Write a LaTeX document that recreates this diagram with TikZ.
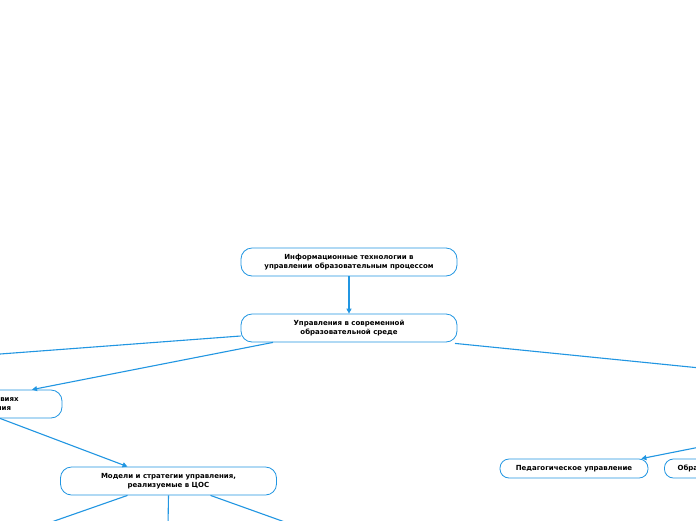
\documentclass[tikz,border=0pt]{standalone}
\usepackage{fontspec}
\setmainfont{DejaVu Sans}
\usetikzlibrary{arrows.meta}
\definecolor{lnblue}{RGB}{33,150,226}
\tikzset{
  topic/.style={draw=lnblue, line width=0.8pt, rounded corners=11pt, fill=white,
    minimum width=216pt, minimum height=28pt, align=center, inner sep=2pt,
    font=\fontsize{7}{9.6}\selectfont\bfseries, text=black},
  small/.style={topic, minimum width=148pt, minimum height=19pt, rounded corners=9pt},
  conn/.style={draw=lnblue, line width=1.1pt},
  arr/.style={conn, -{Triangle[length=5pt,width=5pt]}}
}
\begin{document}
\begin{tikzpicture}[x=1pt,y=-1pt]
\useasboundingbox[fill=white] (0,0) rectangle (696,520);
\node[topic] (T) at (349,262) {Информационные технологии в\\управлении образовательным процессом};
\node[topic] (S) at (349,328) {Управления в современной\\образовательной среде};
\node[topic] (L) at (-46,404) {Управление школой в условиях\\цифровизации образования};
\node[topic] (M) at (168.5,481) {Модели и стратегии управления,\\реализуемые в ЦОС};
\node[small] (P) at (574,468.5) {Педагогическое управление};
\node[small, anchor=west] (O) at (664,468.5) {Образовательное управление};
\coordinate (offL) at (-60,358.5);
\coordinate (offR) at (760,374);
\coordinate (offR2) at (720,443);
\coordinate (m1) at (40,526);
\coordinate (m2) at (168,526);
\coordinate (m3) at (296,526);
\draw[arr] (T) -- (S);
\draw[conn] (S.west) ++(0,8) -- (offL);
\draw[arr] ([xshift=-76pt]S.south) -- ([xshift=78pt]L.north);
\draw[arr] ([xshift=46pt]L.south) -- ([xshift=-41pt]M.north);
\draw[conn] ([xshift=106pt,yshift=-1pt]S.south) -- (offR);
\draw[arr] (offR2) -- ([xshift=-7pt]P.north east);
\draw[conn] ([xshift=-41pt]M.south) -- (m1);
\draw[conn] (M.south) -- (m2);
\draw[conn] ([xshift=42pt]M.south) -- (m3);
\end{tikzpicture}
\end{document}
